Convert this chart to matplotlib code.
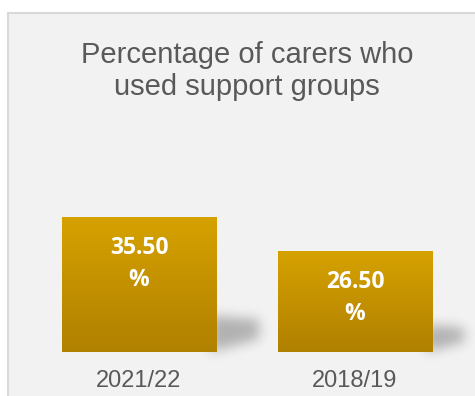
import numpy as np
import matplotlib
matplotlib.use("Agg")
import matplotlib.pyplot as plt
from matplotlib.patches import Rectangle
from matplotlib.path import Path
from matplotlib.colors import LinearSegmentedColormap

title = "Percentage of carers who\nused support groups"
periods = ["2021/22", "2018/19"]
values = [35.50, 26.50]

W, H = 475, 396
fig = plt.figure(figsize=(W / 100, H / 100), dpi=100)
fig.patch.set_facecolor("white")

# background layer in pixel coordinates (panel + soft shadows)
bg = fig.add_axes([0, 0, 1, 1], zorder=0)
bg.set_xlim(0, W)
bg.set_ylim(H, 0)
bg.axis("off")
bg.add_patch(Rectangle((8, 13), W, H, facecolor="#f2f2f2",
                       edgecolor="#d9d9d9", linewidth=1.5))

ax = fig.add_axes([31 / W, 44 / H, 432 / W, 228 / H], zorder=1)
ax.patch.set_alpha(0)
x = np.arange(len(values))
bars = ax.bar(x, values, width=0.713, color="none", edgecolor="none")

# vertical gold gradient clipped to each bar
gold = LinearSegmentedColormap.from_list("gold", ["#b08000", "#d6a200"])
grad = np.linspace(0, 1, 256).reshape(-1, 1)
for b in bars:
    x0, w, h = b.get_x(), b.get_width(), b.get_height()
    im = ax.imshow(grad, cmap=gold, origin="lower", aspect="auto",
                   extent=(x0, x0 + w, 0, h), zorder=2)
    im.set_clip_path(b)
ax.set_xlim(-0.5, len(values) - 0.5)
ax.set_ylim(0, 60)

for b, v in zip(bars, values):
    ax.annotate(f"{v:.2f}\n%", (b.get_x() + b.get_width() / 2, v),
                xytext=(0, -13.5), textcoords="offset points",
                ha="center", va="top", color="white", fontsize=16.5,
                fontweight="bold", family="Open Sans", linespacing=1.45,
                zorder=3)

ax.set_xticks(x)
ax.set_xticklabels(periods, fontsize=17, color="#595959",
                   family="Liberation Sans")
ax.tick_params(axis="x", length=0, pad=13)
ax.set_yticks([])
for s in ax.spines.values():
    s.set_visible(False)

fig.text(247 / W, 1 - 71 / H, title, ha="center", va="center",
         fontsize=21, color="#595959", family="Liberation Sans",
         linespacing=1.2)

# cast shadow behind the lower right corner of every bar
fig.canvas.draw()
yy, xx = np.mgrid[0:H, 0:W] + 0.5
pts = np.column_stack([xx.ravel(), yy.ravel()])
mask = np.zeros((H, W))
for b in bars:
    (px0, py0), (px1, py1) = ax.transData.transform(
        [(b.get_x(), 0), (b.get_x() + b.get_width(), b.get_height())])
    xr, yb = px1, H - py0
    h = py1 - py0
    poly = Path([(xr - 6, yb), (xr - 6, yb - 0.27 * h),
                 (xr + 0.32 * h, yb - 0.24 * h), (xr + 0.32 * h, yb - 0.10 * h)])
    mask = np.maximum(mask, poly.contains_points(pts).reshape(H, W).astype(float))

sigma = 6.0
k = np.arange(-18, 19)
kern = np.exp(-k ** 2 / (2 * sigma ** 2))
kern /= kern.sum()
mask = np.apply_along_axis(lambda r: np.convolve(r, kern, mode="same"), 1, mask)
mask = np.apply_along_axis(lambda c: np.convolve(c, kern, mode="same"), 0, mask)
shadow = np.zeros((H, W, 4))
shadow[..., 3] = mask * 0.27
bg.imshow(shadow, extent=(0, W, H, 0), interpolation="bilinear", zorder=1)
bg.set_xlim(0, W)
bg.set_ylim(H, 0)

fig.savefig("out.png", dpi=100, facecolor=fig.get_facecolor())
